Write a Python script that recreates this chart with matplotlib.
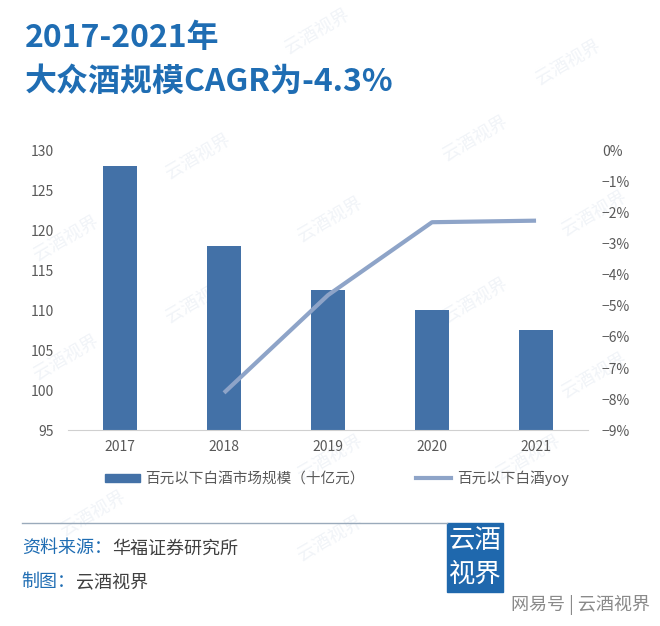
import numpy as np
import matplotlib
matplotlib.use('Agg')
from matplotlib import pyplot as plt
from matplotlib.patches import Rectangle
from matplotlib.lines import Line2D

plt.rcParams['font.family'] = ['Noto Sans CJK SC', 'DejaVu Sans']

years = ['2017', '2018', '2019', '2020', '2021']
market_size = [128.1, 118.1, 112.6, 110.0, 107.5]   # 十亿元
yoy_years = ['2018', '2019', '2020', '2021']
yoy = [-7.8, -4.65, -2.3, -2.25]                    # %

left_ticks = [95, 100, 105, 110, 115, 120, 125, 130]
right_ticks = list(range(-9, 1))

BAR = '#4371a7'
LINE = '#8ea4c8'
BLUE = '#1f6db3'
GRAY = '#595959'

fig = plt.figure(figsize=(6.6, 6.26), dpi=100)

# faint watermarks (behind the chart)
for wx, wy in [(0.48, 0.95), (0.86, 0.90), (0.50, 0.65), (0.72, 0.78), (0.90, 0.66),
               (0.30, 0.52), (0.72, 0.52), (0.10, 0.62), (0.90, 0.40), (0.50, 0.27),
               (0.10, 0.43), (0.30, 0.75), (0.80, 0.27), (0.14, 0.18), (0.50, 0.14)]:
    fig.text(wx, wy, '云酒视界', fontsize=13, color='#f1f4f8', rotation=30,
             ha='center', va='center', zorder=-1)

ax = fig.add_axes([0.103, 0.313, 0.788, 0.446])
ax.set_zorder(1)
ax.patch.set_alpha(0)
x = np.arange(len(years))
ax.bar(x, market_size, width=0.32, color=BAR, zorder=2)
ax.set_xlim(-0.5, 4.5)
ax.set_ylim(95, 130)
ax.set_yticks(left_ticks)
ax.set_xticks(x)
ax.set_xticklabels(years)
for s in ['top', 'right', 'left']:
    ax.spines[s].set_visible(False)
ax.spines['bottom'].set_color('#d0d0d0')
ax.tick_params(axis='both', length=0, labelsize=10, colors=GRAY)
ax.tick_params(axis='x', pad=7)
ax.tick_params(axis='y', pad=10)

ax2 = ax.twinx()
ax2.set_zorder(2)
ax2.patch.set_alpha(0)
xi = [years.index(y) for y in yoy_years]
ax2.plot(xi, yoy, color=LINE, lw=3, solid_capstyle='butt', zorder=3)
ax2.set_ylim(-9, 0)
ax2.set_yticks(right_ticks)
ax2.set_yticklabels([f'{t}%'.replace('-', '\u2212') for t in right_ticks])
for s in ax2.spines.values():
    s.set_visible(False)
ax2.tick_params(axis='y', length=0, labelsize=10, colors=GRAY, pad=10)

# legend
h1 = Rectangle((0, 0), 1, 1, color=BAR)
h2 = Line2D([0], [0], color=LINE, lw=3)
fig.legend([h1, h2], ['百元以下白酒市场规模（十亿元）', '百元以下白酒yoy'],
           loc='center', bbox_to_anchor=(0.51, 0.236), ncol=2, frameon=False,
           fontsize=10.5, labelcolor=GRAY, columnspacing=3.5, handlelength=2.4,
           handleheight=0.5, handletextpad=0.4)

# title
fig.text(0.038, 0.94, '2017-2021年', fontsize=23, fontweight='bold', color=BLUE, va='center')
fig.text(0.038, 0.869, '大众酒规模CAGR为-4.3%', fontsize=23, fontweight='bold', color=BLUE, va='center')

# footer
fig.add_artist(Line2D([0.033, 0.677], [0.165, 0.165], color='#9aaabb', lw=1))
t1 = fig.text(0.033, 0.124, '资料来源：', fontsize=13, color=BLUE, va='center')
fig.text(0.0, 0.0, '')
ax.annotate('华福证券研究所', xy=(1, 0.5), xycoords=t1, va='center', fontsize=13,
            color='#404040', annotation_clip=False)
t2 = fig.text(0.033, 0.07, '制图：', fontsize=13, color=BLUE, va='center')
ax.annotate('云酒视界', xy=(1, 0.5), xycoords=t2, va='center', fontsize=13,
            color='#404040', annotation_clip=False)

fig.add_artist(Rectangle((0.677, 0.054), 0.085, 0.111, color='#1f68ad', transform=fig.transFigure))
fig.text(0.7195, 0.137, '云酒', fontsize=19, color='white', ha='center', va='center')
fig.text(0.7195, 0.082, '视界', fontsize=19, color='white', ha='center', va='center')
fig.text(0.985, 0.033, '网易号 | 云酒视界', fontsize=13, color='#8a8a8a', ha='right', va='center')

fig.savefig('out.png', dpi=100, facecolor='white')
